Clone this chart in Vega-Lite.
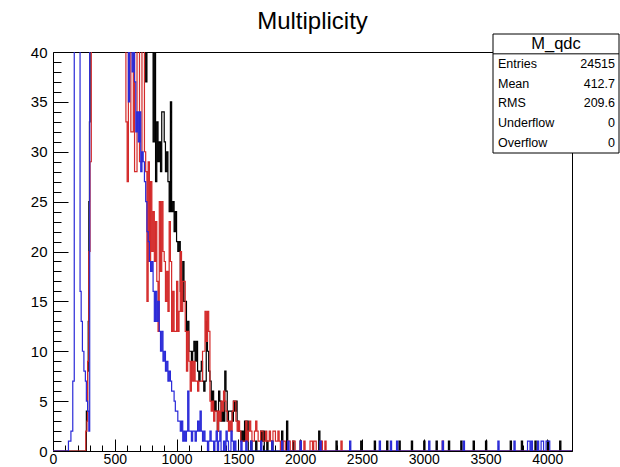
{
"$schema": "https://vega.github.io/schema/vega-lite/v6.json",
"width": 519, "height": 399,
"autosize": {"type": "none"},
"padding": {"left": 53, "top": 52, "right": 48, "bottom": 16},
"background": "white",
"title": {"text": "Multiplicity", "fontSize": 24, "font": "Liberation Sans", "fontWeight": "normal", "color": "black", "anchor": "middle", "offset": 0},
"config": {"view": {"stroke": "black", "strokeWidth": 1}},
"layer": [
{
"data": {"values": [
{"h":"k","x":0,"y":0},{"h":"k","x":270,"y":4},{"h":"k","x":280,"y":8},{"h":"k","x":285,"y":13},{"h":"k","x":290,"y":25},{"h":"k","x":295,"y":33},{"h":"k","x":300,"y":100},{"h":"k","x":750,"y":37},{"h":"k","x":760,"y":100},{"h":"k","x":810,"y":31},{"h":"k","x":820,"y":100},{"h":"k","x":830,"y":27},{"h":"k","x":840,"y":33},{"h":"k","x":850,"y":29},{"h":"k","x":860,"y":31},{"h":"k","x":870,"y":28},{"h":"k","x":880,"y":34},{"h":"k","x":890,"y":34},{"h":"k","x":900,"y":31},{"h":"k","x":910,"y":28},{"h":"k","x":920,"y":30},{"h":"k","x":930,"y":27},{"h":"k","x":940,"y":24},{"h":"k","x":950,"y":35},{"h":"k","x":960,"y":24},{"h":"k","x":970,"y":25},{"h":"k","x":980,"y":22},{"h":"k","x":990,"y":24},{"h":"k","x":1000,"y":21},{"h":"k","x":1010,"y":20},{"h":"k","x":1020,"y":21},{"h":"k","x":1030,"y":16},{"h":"k","x":1040,"y":15},{"h":"k","x":1050,"y":19},{"h":"k","x":1060,"y":15},{"h":"k","x":1070,"y":15},{"h":"k","x":1080,"y":12},{"h":"k","x":1090,"y":13},{"h":"k","x":1100,"y":10},{"h":"k","x":1110,"y":10},{"h":"k","x":1120,"y":9},{"h":"k","x":1130,"y":10},{"h":"k","x":1140,"y":11},{"h":"k","x":1150,"y":9},{"h":"k","x":1160,"y":11},{"h":"k","x":1170,"y":8},{"h":"k","x":1180,"y":7},{"h":"k","x":1190,"y":8},{"h":"k","x":1200,"y":9},{"h":"k","x":1210,"y":7},{"h":"k","x":1220,"y":6},{"h":"k","x":1230,"y":7},{"h":"k","x":1240,"y":13},{"h":"k","x":1250,"y":10},{"h":"k","x":1260,"y":8},{"h":"k","x":1270,"y":7},{"h":"k","x":1280,"y":5},{"h":"k","x":1290,"y":6},{"h":"k","x":1300,"y":4},{"h":"k","x":1310,"y":5},{"h":"k","x":1320,"y":4},{"h":"k","x":1330,"y":2},{"h":"k","x":1340,"y":6},{"h":"k","x":1350,"y":5},{"h":"k","x":1360,"y":3},{"h":"k","x":1370,"y":4},{"h":"k","x":1380,"y":3},{"h":"k","x":1390,"y":8},{"h":"k","x":1400,"y":6},{"h":"k","x":1410,"y":3},{"h":"k","x":1420,"y":4},{"h":"k","x":1430,"y":4},{"h":"k","x":1440,"y":4},{"h":"k","x":1450,"y":3},{"h":"k","x":1460,"y":5},{"h":"k","x":1470,"y":4},{"h":"k","x":1480,"y":5},{"h":"k","x":1490,"y":3},{"h":"k","x":1500,"y":2},{"h":"k","x":1510,"y":2},{"h":"k","x":1520,"y":1},{"h":"k","x":1530,"y":2},{"h":"k","x":1540,"y":1},{"h":"k","x":1550,"y":3},{"h":"k","x":1560,"y":1},{"h":"k","x":1570,"y":3},{"h":"k","x":1580,"y":0},{"h":"k","x":1600,"y":1},{"h":"k","x":1610,"y":0},{"h":"k","x":1640,"y":1},{"h":"k","x":1650,"y":0},{"h":"k","x":1680,"y":2},{"h":"k","x":1690,"y":1},{"h":"k","x":1700,"y":2},{"h":"k","x":1710,"y":0},{"h":"k","x":1730,"y":1},{"h":"k","x":1740,"y":0},{"h":"k","x":1770,"y":1},{"h":"k","x":1780,"y":0},{"h":"k","x":1850,"y":2},{"h":"k","x":1860,"y":0},{"h":"k","x":1890,"y":3},{"h":"k","x":1900,"y":0},{"h":"k","x":1940,"y":1},{"h":"k","x":1950,"y":0},{"h":"k","x":2000,"y":1},{"h":"k","x":2010,"y":0},{"h":"k","x":2150,"y":2},{"h":"k","x":2160,"y":0},{"h":"k","x":2290,"y":1},{"h":"k","x":2300,"y":0},{"h":"k","x":2490,"y":1},{"h":"k","x":2500,"y":0},{"h":"k","x":2600,"y":1},{"h":"k","x":2610,"y":0},{"h":"k","x":2700,"y":1},{"h":"k","x":2710,"y":0},{"h":"k","x":2800,"y":1},{"h":"k","x":2810,"y":0},{"h":"k","x":2900,"y":1},{"h":"k","x":2910,"y":0},{"h":"k","x":3000,"y":1},{"h":"k","x":3010,"y":0},{"h":"k","x":3100,"y":1},{"h":"k","x":3110,"y":0},{"h":"k","x":3200,"y":1},{"h":"k","x":3210,"y":0},{"h":"k","x":3300,"y":1},{"h":"k","x":3310,"y":0},{"h":"k","x":3400,"y":1},{"h":"k","x":3410,"y":0},{"h":"k","x":3500,"y":1},{"h":"k","x":3510,"y":0},{"h":"k","x":3700,"y":1},{"h":"k","x":3710,"y":0},{"h":"k","x":3790,"y":1},{"h":"k","x":3800,"y":0},{"h":"k","x":3900,"y":1},{"h":"k","x":3910,"y":0},{"h":"k","x":4000,"y":1},{"h":"k","x":4010,"y":0},{"h":"k","x":4100,"y":1},{"h":"k","x":4110,"y":0},{"h":"k","x":4200,"y":0},
{"h":"r","x":0,"y":0},{"h":"r","x":265,"y":2},{"h":"r","x":275,"y":3},{"h":"r","x":280,"y":9},{"h":"r","x":290,"y":20},{"h":"r","x":300,"y":29},{"h":"r","x":310,"y":100},{"h":"r","x":590,"y":33},{"h":"r","x":600,"y":27},{"h":"r","x":610,"y":100},{"h":"r","x":630,"y":32},{"h":"r","x":650,"y":100},{"h":"r","x":660,"y":28},{"h":"r","x":680,"y":100},{"h":"r","x":700,"y":29},{"h":"r","x":720,"y":100},{"h":"r","x":740,"y":30},{"h":"r","x":750,"y":28},{"h":"r","x":760,"y":15},{"h":"r","x":770,"y":29},{"h":"r","x":780,"y":19},{"h":"r","x":790,"y":27},{"h":"r","x":800,"y":20},{"h":"r","x":810,"y":24},{"h":"r","x":820,"y":19},{"h":"r","x":830,"y":23},{"h":"r","x":840,"y":17},{"h":"r","x":850,"y":12},{"h":"r","x":860,"y":25},{"h":"r","x":870,"y":18},{"h":"r","x":880,"y":25},{"h":"r","x":890,"y":20},{"h":"r","x":900,"y":19},{"h":"r","x":910,"y":15},{"h":"r","x":920,"y":18},{"h":"r","x":930,"y":14},{"h":"r","x":940,"y":23},{"h":"r","x":950,"y":19},{"h":"r","x":960,"y":12},{"h":"r","x":970,"y":16},{"h":"r","x":980,"y":12},{"h":"r","x":990,"y":12},{"h":"r","x":1000,"y":17},{"h":"r","x":1010,"y":12},{"h":"r","x":1020,"y":14},{"h":"r","x":1030,"y":20},{"h":"r","x":1040,"y":14},{"h":"r","x":1050,"y":17},{"h":"r","x":1060,"y":17},{"h":"r","x":1070,"y":12},{"h":"r","x":1080,"y":8},{"h":"r","x":1090,"y":12},{"h":"r","x":1100,"y":9},{"h":"r","x":1110,"y":6},{"h":"r","x":1120,"y":9},{"h":"r","x":1130,"y":7},{"h":"r","x":1140,"y":9},{"h":"r","x":1150,"y":7},{"h":"r","x":1160,"y":7},{"h":"r","x":1170,"y":6},{"h":"r","x":1180,"y":7},{"h":"r","x":1190,"y":7},{"h":"r","x":1200,"y":7},{"h":"r","x":1210,"y":10},{"h":"r","x":1220,"y":10},{"h":"r","x":1230,"y":14},{"h":"r","x":1240,"y":11},{"h":"r","x":1250,"y":14},{"h":"r","x":1260,"y":12},{"h":"r","x":1270,"y":5},{"h":"r","x":1280,"y":4},{"h":"r","x":1290,"y":5},{"h":"r","x":1300,"y":3},{"h":"r","x":1310,"y":4},{"h":"r","x":1320,"y":4},{"h":"r","x":1330,"y":2},{"h":"r","x":1340,"y":4},{"h":"r","x":1350,"y":3},{"h":"r","x":1360,"y":5},{"h":"r","x":1370,"y":4},{"h":"r","x":1380,"y":6},{"h":"r","x":1390,"y":5},{"h":"r","x":1400,"y":4},{"h":"r","x":1410,"y":3},{"h":"r","x":1420,"y":2},{"h":"r","x":1430,"y":3},{"h":"r","x":1440,"y":2},{"h":"r","x":1450,"y":4},{"h":"r","x":1460,"y":5},{"h":"r","x":1470,"y":5},{"h":"r","x":1480,"y":3},{"h":"r","x":1490,"y":2},{"h":"r","x":1500,"y":3},{"h":"r","x":1510,"y":2},{"h":"r","x":1520,"y":1},{"h":"r","x":1560,"y":3},{"h":"r","x":1570,"y":1},{"h":"r","x":1580,"y":2},{"h":"r","x":1590,"y":3},{"h":"r","x":1600,"y":2},{"h":"r","x":1610,"y":1},{"h":"r","x":1630,"y":2},{"h":"r","x":1640,"y":3},{"h":"r","x":1650,"y":2},{"h":"r","x":1660,"y":1},{"h":"r","x":1680,"y":2},{"h":"r","x":1700,"y":1},{"h":"r","x":1720,"y":2},{"h":"r","x":1730,"y":1},{"h":"r","x":1750,"y":2},{"h":"r","x":1760,"y":1},{"h":"r","x":1780,"y":2},{"h":"r","x":1800,"y":1},{"h":"r","x":1820,"y":2},{"h":"r","x":1830,"y":1},{"h":"r","x":1840,"y":0},{"h":"r","x":1860,"y":1},{"h":"r","x":1880,"y":0},{"h":"r","x":1900,"y":1},{"h":"r","x":1920,"y":0},{"h":"r","x":1940,"y":1},{"h":"r","x":1960,"y":0},{"h":"r","x":2000,"y":1},{"h":"r","x":2010,"y":0},{"h":"r","x":2030,"y":1},{"h":"r","x":2040,"y":0},{"h":"r","x":2080,"y":1},{"h":"r","x":2100,"y":0},{"h":"r","x":2110,"y":1},{"h":"r","x":2130,"y":0},{"h":"r","x":2170,"y":1},{"h":"r","x":2180,"y":0},{"h":"r","x":2200,"y":1},{"h":"r","x":2210,"y":0},{"h":"r","x":2330,"y":1},{"h":"r","x":2340,"y":0},{"h":"r","x":3150,"y":1},{"h":"r","x":3160,"y":0},{"h":"r","x":4200,"y":0},
{"h":"b","x":0,"y":0},{"h":"b","x":125,"y":1},{"h":"b","x":145,"y":2},{"h":"b","x":160,"y":7},{"h":"b","x":172,"y":100},{"h":"b","x":219,"y":16},{"h":"b","x":228,"y":13},{"h":"b","x":238,"y":10},{"h":"b","x":250,"y":8},{"h":"b","x":262,"y":7},{"h":"b","x":270,"y":5},{"h":"b","x":280,"y":4},{"h":"b","x":290,"y":2},{"h":"b","x":297,"y":100},{"h":"b","x":610,"y":35},{"h":"b","x":620,"y":100},{"h":"b","x":640,"y":38},{"h":"b","x":650,"y":100},{"h":"b","x":660,"y":37},{"h":"b","x":670,"y":32},{"h":"b","x":680,"y":34},{"h":"b","x":690,"y":31},{"h":"b","x":700,"y":34},{"h":"b","x":710,"y":28},{"h":"b","x":720,"y":30},{"h":"b","x":730,"y":29},{"h":"b","x":740,"y":27},{"h":"b","x":750,"y":25},{"h":"b","x":760,"y":22},{"h":"b","x":770,"y":21},{"h":"b","x":780,"y":19},{"h":"b","x":790,"y":18},{"h":"b","x":800,"y":19},{"h":"b","x":810,"y":16},{"h":"b","x":820,"y":13},{"h":"b","x":830,"y":16},{"h":"b","x":840,"y":13},{"h":"b","x":850,"y":15},{"h":"b","x":860,"y":12},{"h":"b","x":870,"y":10},{"h":"b","x":880,"y":12},{"h":"b","x":890,"y":9},{"h":"b","x":900,"y":10},{"h":"b","x":910,"y":8},{"h":"b","x":920,"y":9},{"h":"b","x":930,"y":7},{"h":"b","x":940,"y":8},{"h":"b","x":950,"y":7},{"h":"b","x":960,"y":6},{"h":"b","x":970,"y":6},{"h":"b","x":980,"y":5},{"h":"b","x":990,"y":4},{"h":"b","x":1000,"y":4},{"h":"b","x":1010,"y":3},{"h":"b","x":1020,"y":3},{"h":"b","x":1030,"y":2},{"h":"b","x":1040,"y":3},{"h":"b","x":1050,"y":1},{"h":"b","x":1060,"y":2},{"h":"b","x":1070,"y":1},{"h":"b","x":1080,"y":2},{"h":"b","x":1090,"y":6},{"h":"b","x":1100,"y":2},{"h":"b","x":1120,"y":1},{"h":"b","x":1130,"y":2},{"h":"b","x":1150,"y":1},{"h":"b","x":1160,"y":2},{"h":"b","x":1170,"y":3},{"h":"b","x":1180,"y":2},{"h":"b","x":1190,"y":4},{"h":"b","x":1200,"y":2},{"h":"b","x":1210,"y":1},{"h":"b","x":1220,"y":2},{"h":"b","x":1230,"y":1},{"h":"b","x":1250,"y":0},{"h":"b","x":1260,"y":1},{"h":"b","x":1270,"y":2},{"h":"b","x":1280,"y":1},{"h":"b","x":1300,"y":0},{"h":"b","x":1310,"y":1},{"h":"b","x":1320,"y":2},{"h":"b","x":1330,"y":0},{"h":"b","x":1340,"y":1},{"h":"b","x":1350,"y":2},{"h":"b","x":1360,"y":0},{"h":"b","x":1380,"y":1},{"h":"b","x":1390,"y":0},{"h":"b","x":1400,"y":2},{"h":"b","x":1410,"y":1},{"h":"b","x":1420,"y":0},{"h":"b","x":1440,"y":2},{"h":"b","x":1450,"y":1},{"h":"b","x":1460,"y":0},{"h":"b","x":1470,"y":1},{"h":"b","x":1480,"y":0},{"h":"b","x":1520,"y":1},{"h":"b","x":1530,"y":0},{"h":"b","x":1560,"y":1},{"h":"b","x":1570,"y":0},{"h":"b","x":1600,"y":1},{"h":"b","x":1610,"y":0},{"h":"b","x":1680,"y":1},{"h":"b","x":1690,"y":0},{"h":"b","x":1770,"y":1},{"h":"b","x":1780,"y":0},{"h":"b","x":1850,"y":1},{"h":"b","x":1860,"y":0},{"h":"b","x":1900,"y":1},{"h":"b","x":1910,"y":0},{"h":"b","x":2000,"y":1},{"h":"b","x":2010,"y":0},{"h":"b","x":2160,"y":1},{"h":"b","x":2170,"y":0},{"h":"b","x":2400,"y":1},{"h":"b","x":2410,"y":0},{"h":"b","x":2640,"y":1},{"h":"b","x":2650,"y":0},{"h":"b","x":2730,"y":1},{"h":"b","x":2740,"y":0},{"h":"b","x":2780,"y":1},{"h":"b","x":2790,"y":0},{"h":"b","x":3040,"y":1},{"h":"b","x":3050,"y":0},{"h":"b","x":3150,"y":1},{"h":"b","x":3160,"y":0},{"h":"b","x":3320,"y":1},{"h":"b","x":3330,"y":0},{"h":"b","x":3600,"y":1},{"h":"b","x":3610,"y":0},{"h":"b","x":3730,"y":1},{"h":"b","x":3740,"y":0},{"h":"b","x":3840,"y":1},{"h":"b","x":3860,"y":0},{"h":"b","x":3870,"y":1},{"h":"b","x":3880,"y":0},{"h":"b","x":3920,"y":1},{"h":"b","x":3930,"y":0},{"h":"b","x":3950,"y":1},{"h":"b","x":3970,"y":0},{"h":"b","x":3990,"y":1},{"h":"b","x":4020,"y":0},{"h":"b","x":4200,"y":0}
]},
"encoding": {
  "x": {"field": "x", "type": "quantitative",
    "scale": {"domain": [0, 4200], "nice": false, "zero": false},
    "axis": {"values": [0,100,200,300,400,500,600,700,800,900,1000,1100,1200,1300,1400,1500,1600,1700,1800,1900,2000,2100,2200,2300,2400,2500,2600,2700,2800,2900,3000,3100,3200,3300,3400,3500,3600,3700,3800,3900,4000,4100,4200],
      "format": "d", "labelExpr": "datum.value % 500 === 0 ? datum.label : ''",
      "tickSize": {"condition": {"test": "datum.value % 500 === 0", "value": -12}, "value": -6},
      "labelPadding": 13, "tickColor": "black", "tickWidth": 1, "domain": false, "grid": false, "title": null,
      "labelFont": "Liberation Sans", "labelFontSize": 14, "labelColor": "black", "labelFlush": false, "labelOverlap": false}},
  "y": {"field": "y", "type": "quantitative",
    "scale": {"domain": [0, 40], "nice": false, "zero": true},
    "axis": {"values": [0,1,2,3,4,5,6,7,8,9,10,11,12,13,14,15,16,17,18,19,20,21,22,23,24,25,26,27,28,29,30,31,32,33,34,35,36,37,38,39,40],
      "format": "d", "labelExpr": "datum.value % 5 === 0 ? datum.label : ''",
      "tickSize": {"condition": {"test": "datum.value % 5 === 0", "value": -15}, "value": -8},
      "labelPadding": 21, "tickColor": "black", "tickWidth": 1, "domain": false, "grid": false, "title": null,
      "labelFont": "Liberation Sans", "labelFontSize": 15, "labelColor": "black", "labelFlush": false, "labelOverlap": false}}
},
"layer": [
  {"transform": [{"filter": "datum.h === 'k'"}], "mark": {"type": "line", "interpolate": "step-after", "clip": true, "color": "#000000", "strokeWidth": 1.2}},
  {"transform": [{"filter": "datum.h === 'r'"}], "mark": {"type": "line", "interpolate": "step-after", "clip": true, "color": "#d42a2a", "strokeWidth": 1.2}},
  {"transform": [{"filter": "datum.h === 'b'"}], "mark": {"type": "line", "interpolate": "step-after", "clip": true, "color": "#2a2ad8", "strokeWidth": 1.2}}
]
},
{
"data": {"values": [
  {"stat": "M_qdc", "val": ""},
  {"stat": "Entries", "val": "24515"},
  {"stat": "Mean", "val": "412.7"},
  {"stat": "RMS", "val": "209.6"},
  {"stat": "Underflow", "val": "0"},
  {"stat": "Overflow", "val": "0"}
]},
"layer": [
  {"transform": [{"filter": "datum.stat === 'M_qdc'"}],
   "mark": {"type": "rect", "fill": "white", "stroke": "black", "strokeWidth": 1},
   "encoding": {
     "x": {"datum": 0, "type": "quantitative", "scale": {"domain": [0, 1], "range": [440, 566], "nice": false, "zero": false}, "axis": null},
     "x2": {"datum": 1},
     "y": {"datum": "M_qdc", "type": "nominal", "bandPosition": 0, "scale": {"type": "band", "domain": ["M_qdc","Entries","Mean","RMS","Underflow","Overflow"], "range": [-18, 101], "paddingInner": 0, "paddingOuter": 0}, "axis": null},
     "y2": {"datum": "Overflow", "bandPosition": 1}
   }},
  {"transform": [{"filter": "datum.stat === 'M_qdc'"}],
   "mark": {"type": "rule", "color": "black", "strokeWidth": 1},
   "encoding": {
     "x": {"datum": 0, "type": "quantitative", "axis": null},
     "x2": {"datum": 1},
     "y": {"datum": "Entries", "type": "nominal", "bandPosition": 0, "axis": null}
   }},
  {"transform": [{"filter": "datum.stat === 'M_qdc'"}],
   "mark": {"type": "text", "font": "Liberation Sans", "fontSize": 16.5, "align": "center", "baseline": "middle", "color": "black"},
   "encoding": {
     "x": {"datum": 0.5, "type": "quantitative", "axis": null},
     "y": {"field": "stat", "type": "nominal", "axis": null},
     "text": {"field": "stat"}
   }},
  {"transform": [{"filter": "datum.stat !== 'M_qdc'"}],
   "mark": {"type": "text", "font": "Liberation Sans", "fontSize": 12.5, "align": "left", "baseline": "middle", "dx": 5, "color": "black"},
   "encoding": {
     "x": {"datum": 0, "type": "quantitative", "axis": null},
     "y": {"field": "stat", "type": "nominal", "axis": null},
     "text": {"field": "stat"}
   }},
  {"transform": [{"filter": "datum.stat !== 'M_qdc'"}],
   "mark": {"type": "text", "font": "Liberation Sans", "fontSize": 12.5, "align": "right", "baseline": "middle", "dx": -4, "color": "black"},
   "encoding": {
     "x": {"datum": 1, "type": "quantitative", "axis": null},
     "y": {"field": "stat", "type": "nominal", "axis": null},
     "text": {"field": "val"}
   }}
]
}
],
"resolve": {"scale": {"x": "independent", "y": "independent"}, "axis": {"x": "independent", "y": "independent"}}
}
